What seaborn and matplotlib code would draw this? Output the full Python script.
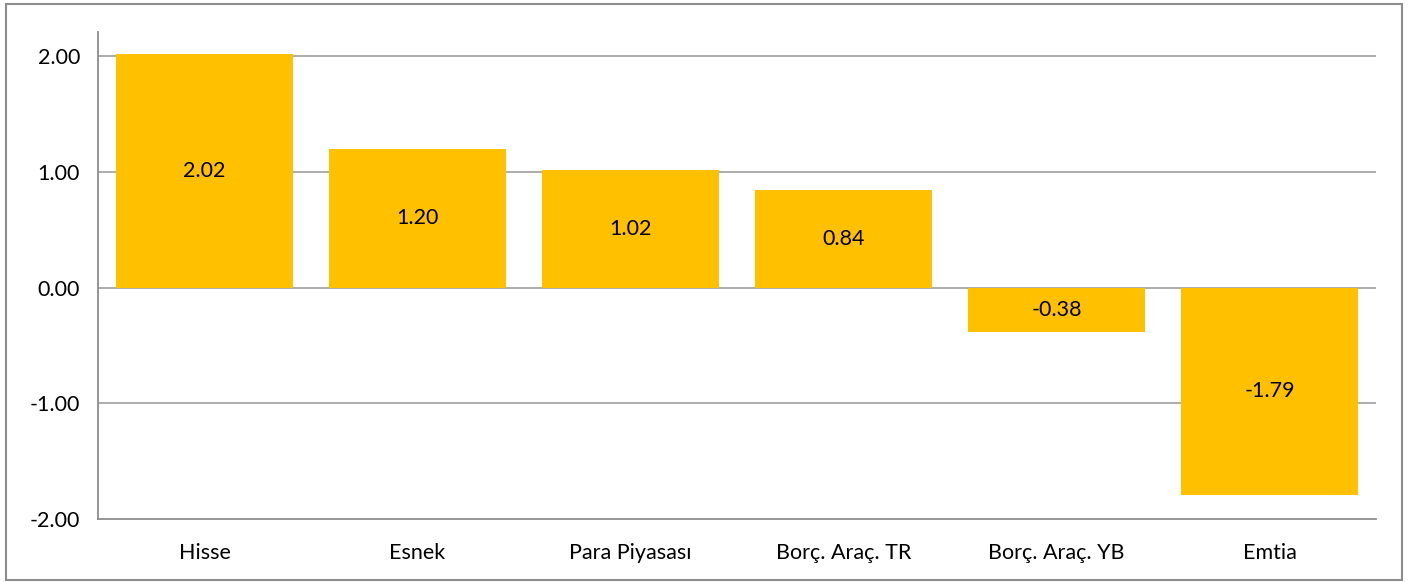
import matplotlib
matplotlib.use("Agg")
import matplotlib.pyplot as plt
import seaborn as sns
import pandas as pd
import numpy as np
from matplotlib.patches import Rectangle

# data
categories = ["Hisse", "Esnek", "Para Piyasası", "Borç. Araç. TR", "Borç. Araç. YB", "Emtia"]
values = [2.02, 1.20, 1.02, 0.84, -0.38, -1.79]
yticks = [-2.0, -1.0, 0.0, 1.0, 2.0]

bar_color = "#FFC000"
grid_color = "#A6A6A6"
axis_color = "#8C8C8C"

sns.set_theme(style="white")
plt.rcParams["font.family"] = ["Lato", "DejaVu Sans"]

df = pd.DataFrame({"cat": categories, "val": values})

fig = plt.figure(figsize=(14.11, 5.82), dpi=100)
ax = fig.add_axes([0.0695, 0.1082, 0.9057, 0.8368])

sns.barplot(data=df, x="cat", y="val", color=bar_color, saturation=1,
            width=0.83, linewidth=0, ax=ax, zorder=3)

ax.set_ylim(-2.0, 2.21)
ax.set_xlim(-0.5, len(categories) - 0.5)
ax.set_yticks(yticks)
ax.set_yticklabels([f"{t:.2f}" for t in yticks], fontsize=15.5)
for t in yticks[1:]:
    ax.axhline(t, color=grid_color, lw=1.3, zorder=1)

ax.set_xlabel("")
ax.set_ylabel("")
ax.tick_params(axis="x", which="major", length=0, labelsize=15.5, pad=17)
ax.set_xticks(np.arange(-0.5, len(categories)), minor=True)
ax.tick_params(axis="x", which="minor", length=7, width=1.3, color=axis_color, direction="out")
ax.tick_params(axis="y", length=7, width=1.3, color=axis_color, direction="out", labelsize=15.5, pad=6)
ax.tick_params(axis="both", labelcolor="black")

for s in ["top", "right"]:
    ax.spines[s].set_visible(False)
for s in ["left", "bottom"]:
    ax.spines[s].set_color(axis_color)
    ax.spines[s].set_linewidth(1.3)

for i, v in enumerate(values):
    ax.text(i, v / 2, f"{v:.2f}", ha="center", va="center", fontsize=15.5, color="black", zorder=4)

# outer chart border
fig.patches.append(Rectangle((0.0046, 0.0034), 0.9890, 0.9897, transform=fig.transFigure,
                             fill=False, edgecolor="#8C8C8C", lw=1.5))

fig.savefig("out.png", dpi=100)
